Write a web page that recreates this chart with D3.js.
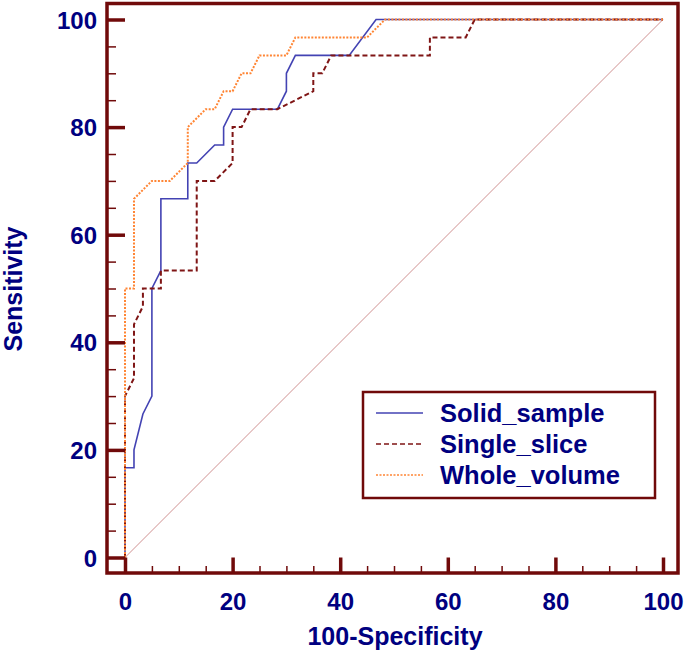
<!DOCTYPE html>
<html>
<head>
<meta charset="utf-8">
<style>
    body { margin: 0; background: #fff; }
    svg text { font-family: "Liberation Sans", Arial, sans-serif; font-weight: bold; fill: #000080; }
</style>
</head>
<body>
<div id="roc"></div>
<script src="https://d3js.org/d3.v7.min.js"></script>
<script>
    // ROC points: [100-Specificity, Sensitivity]
    const solidSample = [
        [0, 0], [0, 16.67], [1.67, 16.67], [1.67, 20], [3.33, 26.67], [5, 30], [5, 50],
        [6.67, 53.33], [6.67, 66.67], [11.67, 66.67], [11.67, 73.33], [13.33, 73.33],
        [16.67, 76.67], [18.33, 76.67], [18.33, 80], [20, 83.33], [28.33, 83.33],
        [30, 86.67], [30, 90], [31.67, 93.33], [41.67, 93.33], [46.67, 100], [100, 100]
    ];
    const singleSlice = [
        [0, 0], [0, 30], [1.67, 33.33], [1.67, 43.33], [3.33, 46.67], [3.33, 50],
        [6.67, 50], [6.67, 53.33], [13.33, 53.33], [13.33, 70], [16.67, 70], [20, 73.33],
        [20, 80], [21.67, 80], [23.33, 83.33], [28.33, 83.33], [35, 86.67], [35, 90],
        [36.67, 90], [38.33, 93.33], [56.67, 93.33], [56.67, 96.67], [63.33, 96.67],
        [65, 100], [100, 100]
    ];
    const wholeVolume = [
        [0, 0], [0, 50], [1.67, 50], [1.67, 66.67], [5, 70], [8.33, 70], [11.67, 73.33],
        [11.67, 80], [15, 83.33], [16.67, 83.33], [18.33, 86.67], [20, 86.67], [21.67, 90],
        [23.33, 90], [25, 93.33], [30, 93.33], [31.67, 96.67], [45, 96.67], [48.33, 100],
        [100, 100]
    ];
    const seriesNames = ["Solid_sample", "Single_slice", "Whole_volume"];
    const majorTicks = [0, 20, 40, 60, 80, 100];
    const minorTicks = d3.range(0, 101, 5).filter(v => v % 20 !== 0);

    const width = 685, height = 652;
    const frame = { left: 107, top: 3.5, right: 678, bottom: 573 };
    const axisColor = "#700a0a";

    const x = d3.scaleLinear().domain([0, 100]).range([125, 663]);
    const y = d3.scaleLinear().domain([0, 100]).range([557.5, 19.5]);

    const svg = d3.select("#roc").append("svg")
        .attr("width", width)
        .attr("height", height);

    // diagonal reference line
    svg.append("line")
        .attr("x1", x(0)).attr("y1", y(0))
        .attr("x2", x(100)).attr("y2", y(100))
        .attr("stroke", "#c98585")
        .attr("stroke-width", 0.9);

    const styles = [
        { data: solidSample, color: "#4343b3", width: 1.6, dash: null },
        { data: singleSlice, color: "#7f1515", width: 2, dash: "5,3" },
        { data: wholeVolume, color: "#ff8534", width: 2, dash: "2,1.5" }
    ];

    const line = d3.line().x(d => x(d[0])).y(d => y(d[1]));

    svg.append("g")
        .selectAll("path")
        .data(styles)
        .join("path")
        .attr("fill", "none")
        .attr("stroke", d => d.color)
        .attr("stroke-width", d => d.width)
        .attr("stroke-dasharray", d => d.dash)
        .attr("d", d => line(d.data));

    // axes: ticks point inward from the frame
    const yMajor = d3.axisLeft(y).tickValues(majorTicks).tickSize(-(x(0) - frame.left)).tickPadding(10);
    const yMinor = d3.axisLeft(y).tickValues(minorTicks).tickSize(-9).tickFormat("");
    const xMajor = d3.axisBottom(x).tickValues(majorTicks).tickSize(-(frame.bottom - y(0))).tickPadding(20);
    const xMinor = d3.axisBottom(x).tickValues(minorTicks).tickSize(-7).tickFormat("");

    const gy = svg.append("g").attr("transform", `translate(${frame.left},0)`).call(yMajor);
    const gy2 = svg.append("g").attr("transform", `translate(${frame.left},0)`).call(yMinor);
    const gx = svg.append("g").attr("transform", `translate(0,${frame.bottom})`).call(xMajor);
    const gx2 = svg.append("g").attr("transform", `translate(0,${frame.bottom})`).call(xMinor);

    [gy, gy2, gx, gx2].forEach(g => {
        g.select(".domain").remove();
        g.selectAll(".tick line").attr("stroke", axisColor);
        g.selectAll("text").attr("font-size", 24).style("font-family", null);
    });
    gy.selectAll(".tick line").attr("stroke-width", 3.5);
    gx.selectAll(".tick line").attr("stroke-width", 3.5);
    gy2.selectAll(".tick line").attr("stroke-width", 1.5);
    gx2.selectAll(".tick line").attr("stroke-width", 1.5);
    gy.selectAll("text").attr("dy", "0.36em");

    svg.append("rect")
        .attr("x", frame.left).attr("y", frame.top)
        .attr("width", frame.right - frame.left)
        .attr("height", frame.bottom - frame.top)
        .attr("fill", "none")
        .attr("stroke", axisColor)
        .attr("stroke-width", 3.5);

    // axis titles
    svg.append("text")
        .attr("x", 395).attr("y", 645)
        .attr("text-anchor", "middle")
        .attr("font-size", 25)
        .text("100-Specificity");

    svg.append("text")
        .attr("transform", "translate(22,289) rotate(-90)")
        .attr("text-anchor", "middle")
        .attr("font-size", 25)
        .text("Sensitivity");

    // legend
    const legend = svg.append("g");
    legend.append("rect")
        .attr("x", 363).attr("y", 392)
        .attr("width", 292).attr("height", 106)
        .attr("fill", "#fff")
        .attr("stroke", axisColor)
        .attr("stroke-width", 2.5);

    const rows = legend.selectAll("g.row")
        .data(styles)
        .join("g")
        .attr("class", "row")
        .attr("transform", (d, i) => `translate(0,${413 + i * 31})`);

    rows.append("line")
        .attr("x1", 376).attr("x2", 423)
        .attr("stroke", d => d.color)
        .attr("stroke-width", 1.5)
        .attr("stroke-dasharray", d => d.dash);

    rows.append("text")
        .attr("x", 440).attr("dy", "0.36em")
        .attr("font-size", 25.5)
        .text((d, i) => seriesNames[i]);
</script>
</body>
</html>
